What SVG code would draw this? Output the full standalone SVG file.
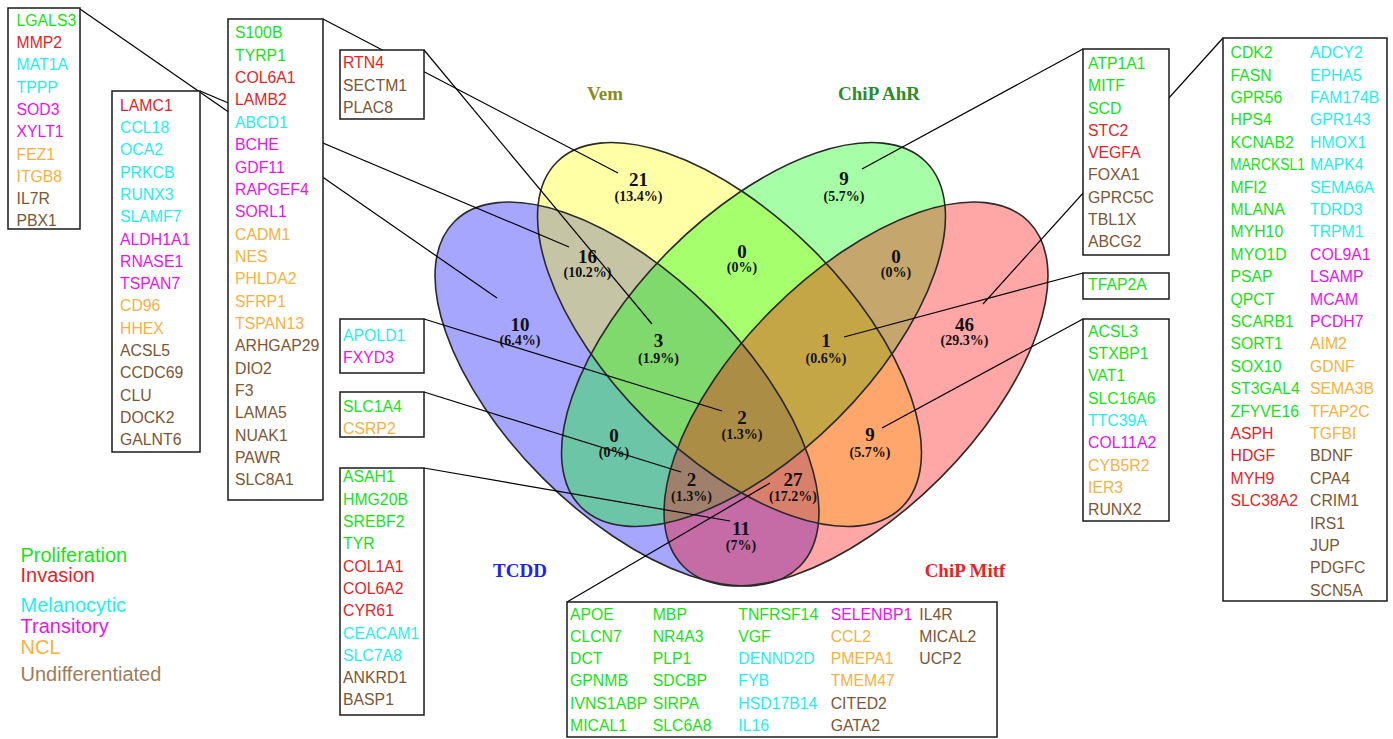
<svg xmlns="http://www.w3.org/2000/svg" width="1393" height="739" viewBox="0 0 1393 739">
<style>
.bx{fill:#fff;stroke:#1a1a1a;stroke-width:1.5}
.ln{stroke:#000;stroke-width:1.2;fill:none}
.el{stroke:#2a2a2a;stroke-width:1.6;fill:none}
.g{font-family:"Liberation Sans",Arial,sans-serif;font-size:15.8px}
.lg{font-family:"Liberation Sans",Arial,sans-serif;font-size:20px}
.P{fill:#14e614}.I{fill:#ee1c25}.M{fill:#1ef0f0}.T{fill:#f010f0}.N{fill:#fbb040}.U{fill:#7d5634}
.num{font-family:"Liberation Serif","Times New Roman",serif;font-weight:bold;font-size:19px;fill:#111;text-anchor:middle}
.pct{font-family:"Liberation Serif","Times New Roman",serif;font-weight:bold;font-size:14px;fill:#111;text-anchor:middle}
.set{font-family:"Liberation Serif","Times New Roman",serif;font-weight:bold;font-size:19px;text-anchor:middle}
</style>

<g id="venn">
  <ellipse cx="627" cy="394" rx="244" ry="119" transform="rotate(45 627 394)" fill="#0000ff" fill-opacity="0.35"/>
  <ellipse cx="729.5" cy="334.5" rx="244" ry="119" transform="rotate(45 729.5 334.5)" fill="#ffff00" fill-opacity="0.35"/>
  <ellipse cx="753.5" cy="334.5" rx="244" ry="119" transform="rotate(-45 753.5 334.5)" fill="#00ff00" fill-opacity="0.35"/>
  <ellipse cx="856" cy="394" rx="244" ry="119" transform="rotate(-45 856 394)" fill="#ff0000" fill-opacity="0.35"/>
  <ellipse class="el" cx="627" cy="394" rx="244" ry="119" transform="rotate(45 627 394)"/>
  <ellipse class="el" cx="729.5" cy="334.5" rx="244" ry="119" transform="rotate(45 729.5 334.5)"/>
  <ellipse class="el" cx="753.5" cy="334.5" rx="244" ry="119" transform="rotate(-45 753.5 334.5)"/>
  <ellipse class="el" cx="856" cy="394" rx="244" ry="119" transform="rotate(-45 856 394)"/>
  <text class="set" x="605" y="100" fill="#8c8c1a">Vem</text>
  <text class="set" x="879" y="100" fill="#2a8c2a">ChiP AhR</text>
  <text class="set" x="520" y="577" fill="#2222ee">TCDD</text>
  <text class="set" x="965" y="577" fill="#ee2222">ChiP Mitf</text>
  <text class="num" x="638.5" y="185.5">21</text><text class="pct" x="638.5" y="200.5">(13.4%)</text>
  <text class="num" x="844" y="185">9</text><text class="pct" x="844" y="200.5">(5.7%)</text>
  <text class="num" x="587.5" y="262.5">16</text><text class="pct" x="587.5" y="276.5">(10.2%)</text>
  <text class="num" x="742" y="257.5">0</text><text class="pct" x="742" y="271.5">(0%)</text>
  <text class="num" x="896" y="262.5">0</text><text class="pct" x="896" y="276.5">(0%)</text>
  <text class="num" x="520" y="330.5">10</text><text class="pct" x="520" y="345">(6.4%)</text>
  <text class="num" x="658.5" y="347">3</text><text class="pct" x="658.5" y="363">(1.9%)</text>
  <text class="num" x="826" y="347">1</text><text class="pct" x="826" y="363">(0.6%)</text>
  <text class="num" x="964.5" y="330.5">46</text><text class="pct" x="964.5" y="345">(29.3%)</text>
  <text class="num" x="742" y="423.5">2</text><text class="pct" x="742" y="438.5">(1.3%)</text>
  <text class="num" x="614" y="441.5">0</text><text class="pct" x="614" y="456.5">(0%)</text>
  <text class="num" x="870" y="440.5">9</text><text class="pct" x="870" y="456.5">(5.7%)</text>
  <text class="num" x="691.5" y="485.5">2</text><text class="pct" x="691.5" y="500.5">(1.3%)</text>
  <text class="num" x="793" y="485.5">27</text><text class="pct" x="793" y="500.5">(17.2%)</text>
  <text class="num" x="741" y="534.5">11</text><text class="pct" x="741" y="549.5">(7%)</text>
</g>

<g id="connectors">
  <line class="ln" x1="80" y1="9" x2="497" y2="298"/>
  <line class="ln" x1="200" y1="91" x2="569" y2="247"/>
  <line class="ln" x1="323" y1="19" x2="618" y2="173"/>
  <line class="ln" x1="424" y1="50" x2="652" y2="324"/>
  <line class="ln" x1="424" y1="319" x2="722" y2="411"/>
  <line class="ln" x1="424" y1="392" x2="681" y2="472"/>
  <line class="ln" x1="424" y1="468" x2="730" y2="521"/>
  <line class="ln" x1="567" y1="602" x2="770" y2="483"/>
  <line class="ln" x1="1083" y1="49" x2="862" y2="169"/>
  <line class="ln" x1="1083" y1="273" x2="844" y2="337"/>
  <line class="ln" x1="1083" y1="319" x2="882" y2="428"/>
  <line class="ln" x1="1223" y1="38" x2="983" y2="304"/>
</g>

<g id="box-tcdd">
  <rect class="bx" x="8" y="8" width="72" height="221"/>
  <text class="g"><tspan x="16.5" y="25.7" class="P">LGALS3</tspan><tspan x="16.5" dy="22.3" class="I">MMP2</tspan><tspan x="16.5" dy="22.3" class="M">MAT1A</tspan><tspan x="16.5" dy="22.3" class="M">TPPP</tspan><tspan x="16.5" dy="22.3" class="T">SOD3</tspan><tspan x="16.5" dy="22.3" class="T">XYLT1</tspan><tspan x="16.5" dy="22.3" class="N">FEZ1</tspan><tspan x="16.5" dy="22.3" class="N">ITGB8</tspan><tspan x="16.5" dy="22.3" class="U">IL7R</tspan><tspan x="16.5" dy="22.3" class="U">PBX1</tspan></text>
</g>

<g id="box-tcdd-vem">
  <rect class="bx" x="112" y="91" width="88" height="361"/>
  <text class="g"><tspan x="120" y="110.7" class="I">LAMC1</tspan><tspan x="120" dy="22.3" class="M">CCL18</tspan><tspan x="120" dy="22.3" class="M">OCA2</tspan><tspan x="120" dy="22.3" class="M">PRKCB</tspan><tspan x="120" dy="22.3" class="M">RUNX3</tspan><tspan x="120" dy="22.3" class="M">SLAMF7</tspan><tspan x="120" dy="22.3" class="T">ALDH1A1</tspan><tspan x="120" dy="22.3" class="T">RNASE1</tspan><tspan x="120" dy="22.3" class="T">TSPAN7</tspan><tspan x="120" dy="22.3" class="N">CD96</tspan><tspan x="120" dy="22.3" class="N">HHEX</tspan><tspan x="120" dy="22.3" class="U">ACSL5</tspan><tspan x="120" dy="22.3" class="U">CCDC69</tspan><tspan x="120" dy="22.3" class="U">CLU</tspan><tspan x="120" dy="22.3" class="U">DOCK2</tspan><tspan x="120" dy="22.3" class="U">GALNT6</tspan></text>
</g>

<g id="box-vem">
  <rect class="bx" x="228" y="19" width="95" height="481"/>
  <text class="g"><tspan x="235" y="38.4" class="P">S100B</tspan><tspan x="235" dy="22.35" class="P">TYRP1</tspan><tspan x="235" dy="22.35" class="I">COL6A1</tspan><tspan x="235" dy="22.35" class="I">LAMB2</tspan><tspan x="235" dy="22.35" class="M">ABCD1</tspan><tspan x="235" dy="22.35" class="T">BCHE</tspan><tspan x="235" dy="22.35" class="T">GDF11</tspan><tspan x="235" dy="22.35" class="T">RAPGEF4</tspan><tspan x="235" dy="22.35" class="T">SORL1</tspan><tspan x="235" dy="22.35" class="N">CADM1</tspan><tspan x="235" dy="22.35" class="N">NES</tspan><tspan x="235" dy="22.35" class="N">PHLDA2</tspan><tspan x="235" dy="22.35" class="N">SFRP1</tspan><tspan x="235" dy="22.35" class="N">TSPAN13</tspan><tspan x="235" dy="22.35" class="U">ARHGAP29</tspan><tspan x="235" dy="22.35" class="U">DIO2</tspan><tspan x="235" dy="22.35" class="U">F3</tspan><tspan x="235" dy="22.35" class="U">LAMA5</tspan><tspan x="235" dy="22.35" class="U">NUAK1</tspan><tspan x="235" dy="22.35" class="U">PAWR</tspan><tspan x="235" dy="22.35" class="U">SLC8A1</tspan></text>
</g>

<g id="box-tcdd-vem-ahr">
  <rect class="bx" x="340" y="50" width="84" height="69"/>
  <text class="g"><tspan x="343" y="68" class="I">RTN4</tspan><tspan x="343" dy="22.7" class="U">SECTM1</tspan><tspan x="343" dy="22.7" class="U">PLAC8</tspan></text>
</g>

<g id="box-all">
  <rect class="bx" x="340" y="319" width="84" height="54"/>
  <text class="g"><tspan x="343" y="340.7" class="M">APOLD1</tspan><tspan x="343" dy="22.3" class="T">FXYD3</tspan></text>
</g>

<g id="box-tcdd-ahr-mitf">
  <rect class="bx" x="340" y="392" width="84" height="45"/>
  <text class="g"><tspan x="343" y="412.3" class="P">SLC1A4</tspan><tspan x="343" dy="21.7" class="N">CSRP2</tspan></text>
</g>

<g id="box-tcdd-mitf">
  <rect class="bx" x="340" y="468" width="84" height="247"/>
  <text class="g"><tspan x="343" y="482.4" class="P">ASAH1</tspan><tspan x="343" dy="22.3" class="P">HMG20B</tspan><tspan x="343" dy="22.3" class="P">SREBF2</tspan><tspan x="343" dy="22.3" class="P">TYR</tspan><tspan x="343" dy="22.3" class="I">COL1A1</tspan><tspan x="343" dy="22.3" class="I">COL6A2</tspan><tspan x="343" dy="22.3" class="I">CYR61</tspan><tspan x="343" dy="22.3" class="M">CEACAM1</tspan><tspan x="343" dy="22.3" class="M">SLC7A8</tspan><tspan x="343" dy="22.3" class="U">ANKRD1</tspan><tspan x="343" dy="22.3" class="U">BASP1</tspan></text>
</g>

<g id="box-tcdd-vem-mitf">
  <rect class="bx" x="567" y="602" width="430" height="135"/>
  <text class="g"><tspan x="570" y="619.7" class="P">APOE</tspan><tspan x="570" dy="22.2" class="P">CLCN7</tspan><tspan x="570" dy="22.2" class="P">DCT</tspan><tspan x="570" dy="22.2" class="P">GPNMB</tspan><tspan x="570" dy="22.2" class="P">IVNS1ABP</tspan><tspan x="570" dy="22.2" class="P">MICAL1</tspan></text>
  <text class="g"><tspan x="652.7" y="619.7" class="P">MBP</tspan><tspan x="652.7" dy="22.2" class="P">NR4A3</tspan><tspan x="652.7" dy="22.2" class="P">PLP1</tspan><tspan x="652.7" dy="22.2" class="P">SDCBP</tspan><tspan x="652.7" dy="22.2" class="P">SIRPA</tspan><tspan x="652.7" dy="22.2" class="P">SLC6A8</tspan></text>
  <text class="g"><tspan x="738.3" y="619.7" class="P">TNFRSF14</tspan><tspan x="738.3" dy="22.2" class="P">VGF</tspan><tspan x="738.3" dy="22.2" class="M">DENND2D</tspan><tspan x="738.3" dy="22.2" class="M">FYB</tspan><tspan x="738.3" dy="22.2" class="M">HSD17B14</tspan><tspan x="738.3" dy="22.2" class="M">IL16</tspan></text>
  <text class="g"><tspan x="830.7" y="619.7" class="T">SELENBP1</tspan><tspan x="830.7" dy="22.2" class="N">CCL2</tspan><tspan x="830.7" dy="22.2" class="N">PMEPA1</tspan><tspan x="830.7" dy="22.2" class="N">TMEM47</tspan><tspan x="830.7" dy="22.2" class="U">CITED2</tspan><tspan x="830.7" dy="22.2" class="U">GATA2</tspan></text>
  <text class="g"><tspan x="919.3" y="619.7" class="U">IL4R</tspan><tspan x="919.3" dy="22.2" class="U">MICAL2</tspan><tspan x="919.3" dy="22.2" class="U">UCP2</tspan></text>
</g>

<g id="box-ahr">
  <rect class="bx" x="1083" y="49" width="86" height="206"/>
  <text class="g"><tspan x="1088" y="68.9" class="P">ATP1A1</tspan><tspan x="1088" dy="22.3" class="P">MITF</tspan><tspan x="1088" dy="22.3" class="P">SCD</tspan><tspan x="1088" dy="22.3" class="I">STC2</tspan><tspan x="1088" dy="22.3" class="I">VEGFA</tspan><tspan x="1088" dy="22.3" class="U">FOXA1</tspan><tspan x="1088" dy="22.3" class="U">GPRC5C</tspan><tspan x="1088" dy="22.3" class="U">TBL1X</tspan><tspan x="1088" dy="22.3" class="U">ABCG2</tspan></text>
</g>

<g id="box-vem-ahr-mitf">
  <rect class="bx" x="1083" y="273" width="86" height="26"/>
  <text class="g"><tspan x="1088" y="289.7" class="P">TFAP2A</tspan></text>
</g>

<g id="box-vem-mitf">
  <rect class="bx" x="1083" y="319" width="86" height="202"/>
  <text class="g"><tspan x="1088" y="336.7" class="P">ACSL3</tspan><tspan x="1088" dy="22.3" class="P">STXBP1</tspan><tspan x="1088" dy="22.3" class="P">VAT1</tspan><tspan x="1088" dy="22.3" class="P">SLC16A6</tspan><tspan x="1088" dy="22.3" class="M">TTC39A</tspan><tspan x="1088" dy="22.3" class="T">COL11A2</tspan><tspan x="1088" dy="22.3" class="N">CYB5R2</tspan><tspan x="1088" dy="22.3" class="N">IER3</tspan><tspan x="1088" dy="22.3" class="U">RUNX2</tspan></text>
</g>

<g id="box-mitf">
  <rect class="bx" x="1223" y="38" width="164" height="563"/>
  <text class="g"><tspan x="1230.5" y="58.2" class="P">CDK2</tspan><tspan x="1230.5" dy="22.4" class="P">FASN</tspan><tspan x="1230.5" dy="22.4" class="P">GPR56</tspan><tspan x="1230.5" dy="22.4" class="P">HPS4</tspan><tspan x="1230.5" dy="22.4" class="P">KCNAB2</tspan></text>
  <text class="g P" x="1230" y="170.2" textLength="75" lengthAdjust="spacingAndGlyphs">MARCKSL1</text>
  <text class="g"><tspan x="1230.5" y="192.6" class="P">MFI2</tspan><tspan x="1230.5" dy="22.4" class="P">MLANA</tspan><tspan x="1230.5" dy="22.4" class="P">MYH10</tspan><tspan x="1230.5" dy="22.4" class="P">MYO1D</tspan><tspan x="1230.5" dy="22.4" class="P">PSAP</tspan><tspan x="1230.5" dy="22.4" class="P">QPCT</tspan><tspan x="1230.5" dy="22.4" class="P">SCARB1</tspan><tspan x="1230.5" dy="22.4" class="P">SORT1</tspan><tspan x="1230.5" dy="22.4" class="P">SOX10</tspan><tspan x="1230.5" dy="22.4" class="P">ST3GAL4</tspan><tspan x="1230.5" dy="22.4" class="P">ZFYVE16</tspan><tspan x="1230.5" dy="22.4" class="I">ASPH</tspan><tspan x="1230.5" dy="22.4" class="I">HDGF</tspan><tspan x="1230.5" dy="22.4" class="I">MYH9</tspan><tspan x="1230.5" dy="22.4" class="I">SLC38A2</tspan></text>
  <text class="g"><tspan x="1310" y="58.2" class="M">ADCY2</tspan><tspan x="1310" dy="22.4" class="M">EPHA5</tspan><tspan x="1310" dy="22.4" class="M">FAM174B</tspan><tspan x="1310" dy="22.4" class="M">GPR143</tspan><tspan x="1310" dy="22.4" class="M">HMOX1</tspan><tspan x="1310" dy="22.4" class="M">MAPK4</tspan><tspan x="1310" dy="22.4" class="M">SEMA6A</tspan><tspan x="1310" dy="22.4" class="M">TDRD3</tspan><tspan x="1310" dy="22.4" class="M">TRPM1</tspan><tspan x="1310" dy="22.4" class="T">COL9A1</tspan><tspan x="1310" dy="22.4" class="T">LSAMP</tspan><tspan x="1310" dy="22.4" class="T">MCAM</tspan><tspan x="1310" dy="22.4" class="T">PCDH7</tspan><tspan x="1310" dy="22.4" class="N">AIM2</tspan><tspan x="1310" dy="22.4" class="N">GDNF</tspan><tspan x="1310" dy="22.4" class="N">SEMA3B</tspan><tspan x="1310" dy="22.4" class="N">TFAP2C</tspan><tspan x="1310" dy="22.4" class="N">TGFBI</tspan><tspan x="1310" dy="22.4" class="U">BDNF</tspan><tspan x="1310" dy="22.4" class="U">CPA4</tspan><tspan x="1310" dy="22.4" class="U">CRIM1</tspan><tspan x="1310" dy="22.4" class="U">IRS1</tspan><tspan x="1310" dy="22.4" class="U">JUP</tspan><tspan x="1310" dy="22.4" class="U">PDGFC</tspan><tspan x="1310" dy="22.4" class="U">SCN5A</tspan></text>
</g>

<g id="legend">
  <text class="lg P" x="20.5" y="561.5">Proliferation</text>
  <text class="lg I" x="20.5" y="582">Invasion</text>
  <text class="lg M" x="20.5" y="611.5">Melanocytic</text>
  <text class="lg T" x="20.5" y="633">Transitory</text>
  <text class="lg N" x="20.5" y="654">NCL</text>
  <text class="lg" x="20.5" y="680.5" fill="#a07c58">Undifferentiated</text>
</g>
</svg>
